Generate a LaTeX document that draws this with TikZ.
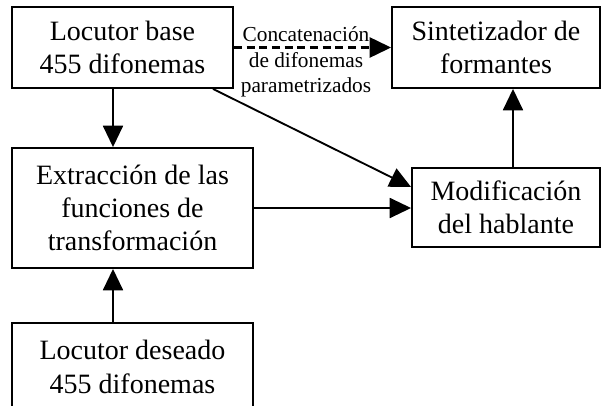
\documentclass[tikz,border=0pt]{standalone}
\usepackage{fontspec}
\setmainfont{Liberation Serif}
\usetikzlibrary{arrows.meta}
\begin{document}
\begin{tikzpicture}[x=0.75pt, y=0.75pt, line width=1.4pt]
    \tikzset{>={Triangle[length=16pt,width=15pt]}}
    \tikzset{bloque/.style={draw, align=center, inner sep=0pt, font=\fontsize{21}{25}\selectfont}}
    \useasboundingbox (0,0) rectangle (601,405);
    \coordinate (C1) at (113,0);
    \coordinate (C2) at (213,0);
    \coordinate (C3) at (0,218);
    \coordinate (C4) at (513,0);
    \node[bloque, minimum width=165.75pt, minimum height=60.75pt] (base) at (122.5,357.5) {Locutor base\\455 difonemas};
    \node[bloque, minimum width=156pt, minimum height=60.75pt] (sint) at (496,357.5) {Sintetizador de\\formantes};
    \node[bloque, minimum width=180.75pt, minimum height=90pt] (extr) at (132.5,197) {Extracción de las\\funciones de\\transformación};
    \node[bloque, minimum width=141pt, minimum height=59.25pt] (modif) at (506,197.5) {Modificación\\del hablante};
    \node[bloque, minimum width=180.75pt, minimum height=66pt] (deseado) at (132.5,38) {Locutor deseado\\455 difonemas};
    \node[align=center, inner sep=0pt, font=\fontsize{16}{19}\selectfont] (concat) at (306,343) {Concatenación\\de difonemas\\parametrizados};
    \draw[->] (base.south -| C1) -- (extr.north -| C1);
    \draw[->] (deseado.north -| C1) -- (extr.south -| C1);
    \draw[->] (base.south -| C2) -- (modif.west |- C3);
    \draw[->] (extr.east) -- (extr.east -| modif.west);
    \draw[->] (modif.north -| C4) -- (sint.south -| C4);
    \draw[->, line width=1.8pt, dash pattern=on 6pt off 3.5pt] (base.east) -- (base.east -| sint.west);
\end{tikzpicture}
\end{document}
